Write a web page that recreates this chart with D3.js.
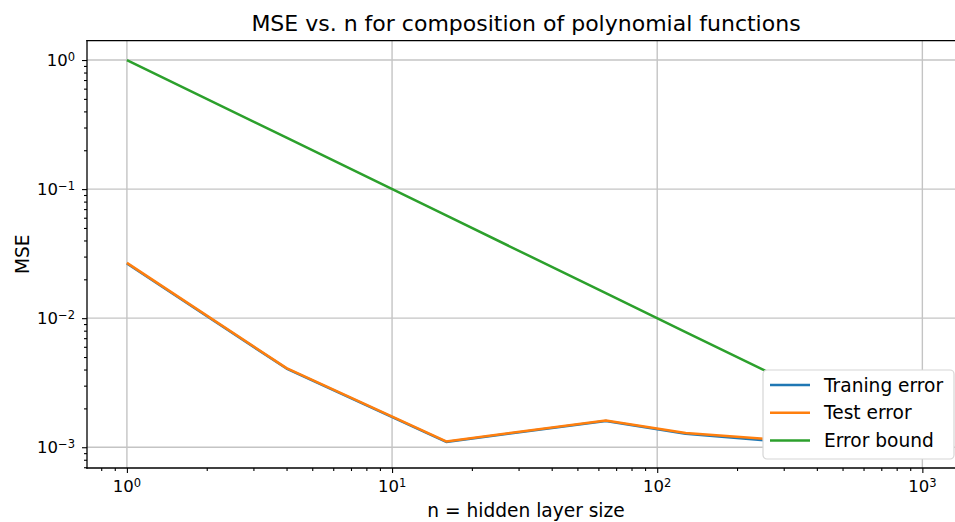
<!DOCTYPE html>
<html>
<head>
<meta charset="utf-8">
<script src="https://cdn.jsdelivr.net/npm/d3@7"></script>
<style>
  html, body { margin: 0; padding: 0; background: #fff; overflow: hidden; }
  svg { display: block; overflow: hidden; font-family: "DejaVu Sans", sans-serif; }
</style>
</head>
<body>
<div id="chart"></div>
<script>
(function() {
    'use strict';

    // hidden layer sizes
    const nValues = [1, 4, 16, 64, 128, 256, 512, 1024];
    // (last two are hidden by the legend, estimated)
    const trainError = [0.0265, 0.00407, 0.0011, 0.0016, 0.00127, 0.00113, 0.00108, 0.00105];
    const testError = [0.0268, 0.0041, 0.00111, 0.00161, 0.00129, 0.00116, 0.0011, 0.00107];
    const errorBound = [1, 0.25, 0.0625, 0.015625, 0.0078125, 0.00390625, 0.001953125, 0.0009765625];

    const seriesNames = ["Traning error", "Test error", "Error bound"];
    const seriesColors = ["#1f77b4", "#ff7f0e", "#2ca02c"];
    const xTickExps = [0, 1, 2, 3];
    const yTickExps = [0, -1, -2, -3];

    const width = 955;
    const height = 522;
    const left = 87, right = 965, top = 40.6, bottom = 468;

    const svg = d3.select("#chart")
        .append("svg")
        .attr("width", width)
        .attr("height", height);

    // matplotlib style 5% margins in log space
    function padded(lo, hi) {
        const a = Math.log10(lo), b = Math.log10(hi);
        const p = (b - a) * 0.05;
        return [Math.pow(10, a - p), Math.pow(10, b + p)];
    }

    const x = d3.scaleLog()
        .domain(padded(d3.min(nValues), d3.max(nValues)))
        .range([left, right]);

    const allY = trainError.concat(testError, errorBound);
    const y = d3.scaleLog()
        .domain(padded(d3.min(allY), d3.max(allY)))
        .range([bottom, top]);

    // minor tick values inside the domain
    function minorTicks(scale) {
        const [lo, hi] = scale.domain();
        const out = [];
        for (let e = Math.floor(Math.log10(lo)); e <= Math.ceil(Math.log10(hi)); e++) {
            for (let m = 2; m <= 9; m++) {
                const v = m * Math.pow(10, e);
                if (v >= lo && v <= hi) out.push(v);
            }
        }
        return out;
    }

    // grid
    const grid = svg.append("g");
    grid.selectAll("line.gx")
        .data(xTickExps)
        .enter()
        .append("line")
        .attr("x1", d => x(Math.pow(10, d)))
        .attr("x2", d => x(Math.pow(10, d)))
        .attr("y1", top)
        .attr("y2", bottom)
        .attr("stroke", "#c4c4c4")
        .attr("stroke-width", 1.4);
    grid.selectAll("line.gy")
        .data(yTickExps)
        .enter()
        .append("line")
        .attr("x1", left)
        .attr("x2", right)
        .attr("y1", d => y(Math.pow(10, d)))
        .attr("y2", d => y(Math.pow(10, d)))
        .attr("stroke", "#c4c4c4")
        .attr("stroke-width", 1.4);

    // lines
    const line = d3.line()
        .x(d => x(d[0]))
        .y(d => y(d[1]));

    const series = [trainError, testError, errorBound];
    series.forEach((vals, i) => {
        svg.append("path")
            .datum(nValues.map((n, j) => [n, vals[j]]))
            .attr("d", line)
            .attr("fill", "none")
            .attr("stroke", seriesColors[i])
            .attr("stroke-width", 2.5)
            .attr("stroke-linejoin", "round");
    });

    // spines (right one falls outside the picture)
    const spines = [
        [left, top, left, bottom],
        [left, bottom, right, bottom],
        [left, top, right, top]
    ];
    svg.selectAll("line.spine")
        .data(spines)
        .enter()
        .append("line")
        .attr("x1", d => d[0])
        .attr("y1", d => d[1])
        .attr("x2", d => d[2])
        .attr("y2", d => d[3])
        .attr("stroke", "#000")
        .attr("stroke-width", 1.3)
        .attr("stroke-linecap", "square");

    // axes
    const xAxis = svg.append("g")
        .attr("transform", `translate(0,${bottom})`);
    xAxis.call(d3.axisBottom(x).tickValues(minorTicks(x)).tickSize(3).tickFormat(""));
    xAxis.append("g")
        .call(d3.axisBottom(x).tickValues(xTickExps.map(e => Math.pow(10, e))).tickSize(5).tickFormat(""));
    xAxis.selectAll(".domain").remove();
    xAxis.selectAll("line").attr("stroke", "#000").attr("stroke-width", 1.1);

    const yAxis = svg.append("g")
        .attr("transform", `translate(${left},0)`);
    yAxis.call(d3.axisLeft(y).tickValues(minorTicks(y)).tickSize(3).tickFormat(""));
    yAxis.append("g")
        .call(d3.axisLeft(y).tickValues(yTickExps.map(e => Math.pow(10, e))).tickSize(5).tickFormat(""));
    yAxis.selectAll(".domain").remove();
    yAxis.selectAll("line").attr("stroke", "#000").attr("stroke-width", 1.1);

    // tick labels as 10^k
    function powLabel(sel, e) {
        sel.append("tspan").text("10");
        sel.append("tspan")
            .attr("font-size", "11.5px")
            .attr("dy", "-0.45em")
            .text(e < 0 ? "\u2212" + (-e) : String(e));
    }

    xTickExps.forEach(e => {
        const t = svg.append("text")
            .attr("x", x(Math.pow(10, e)))
            .attr("y", bottom + 24)
            .attr("text-anchor", "middle")
            .attr("font-size", "16.5px")
            .attr("fill", "#000");
        powLabel(t, e);
    });

    yTickExps.forEach(e => {
        const t = svg.append("text")
            .attr("x", 75)
            .attr("y", y(Math.pow(10, e)) + 6)
            .attr("text-anchor", "end")
            .attr("font-size", "16.5px")
            .attr("fill", "#000");
        powLabel(t, e);
    });

    // labels + title
    svg.append("text")
        .attr("x", (left + right) / 2)
        .attr("y", 517)
        .attr("text-anchor", "middle")
        .attr("font-size", "18.6px")
        .text("n = hidden layer size");

    svg.append("text")
        .attr("transform", `translate(29,${(top + bottom) / 2}) rotate(-90)`)
        .attr("text-anchor", "middle")
        .attr("font-size", "18.6px")
        .text("MSE");

    svg.append("text")
        .attr("x", (left + right) / 2)
        .attr("y", 31)
        .attr("text-anchor", "middle")
        .attr("font-size", "22px")
        .text("MSE vs. n for composition of polynomial functions");

    // legend
    const legend = svg.append("g").attr("transform", "translate(763,370)");
    legend.append("rect")
        .attr("width", 191)
        .attr("height", 89)
        .attr("rx", 4)
        .attr("fill", "#fff")
        .attr("stroke", "#d6d6d6")
        .attr("stroke-width", 1.2);

    const rows = legend.selectAll("g.row")
        .data(seriesNames)
        .enter()
        .append("g")
        .attr("transform", (d, i) => `translate(0,${15 + i * 27.8})`);
    rows.append("line")
        .attr("x1", 7)
        .attr("x2", 47)
        .attr("stroke", (d, i) => seriesColors[i])
        .attr("stroke-width", 2.5);
    rows.append("text")
        .attr("x", 61)
        .attr("y", 6.5)
        .attr("font-size", "18.6px")
        .text(d => d);
})();
</script>
</body>
</html>
